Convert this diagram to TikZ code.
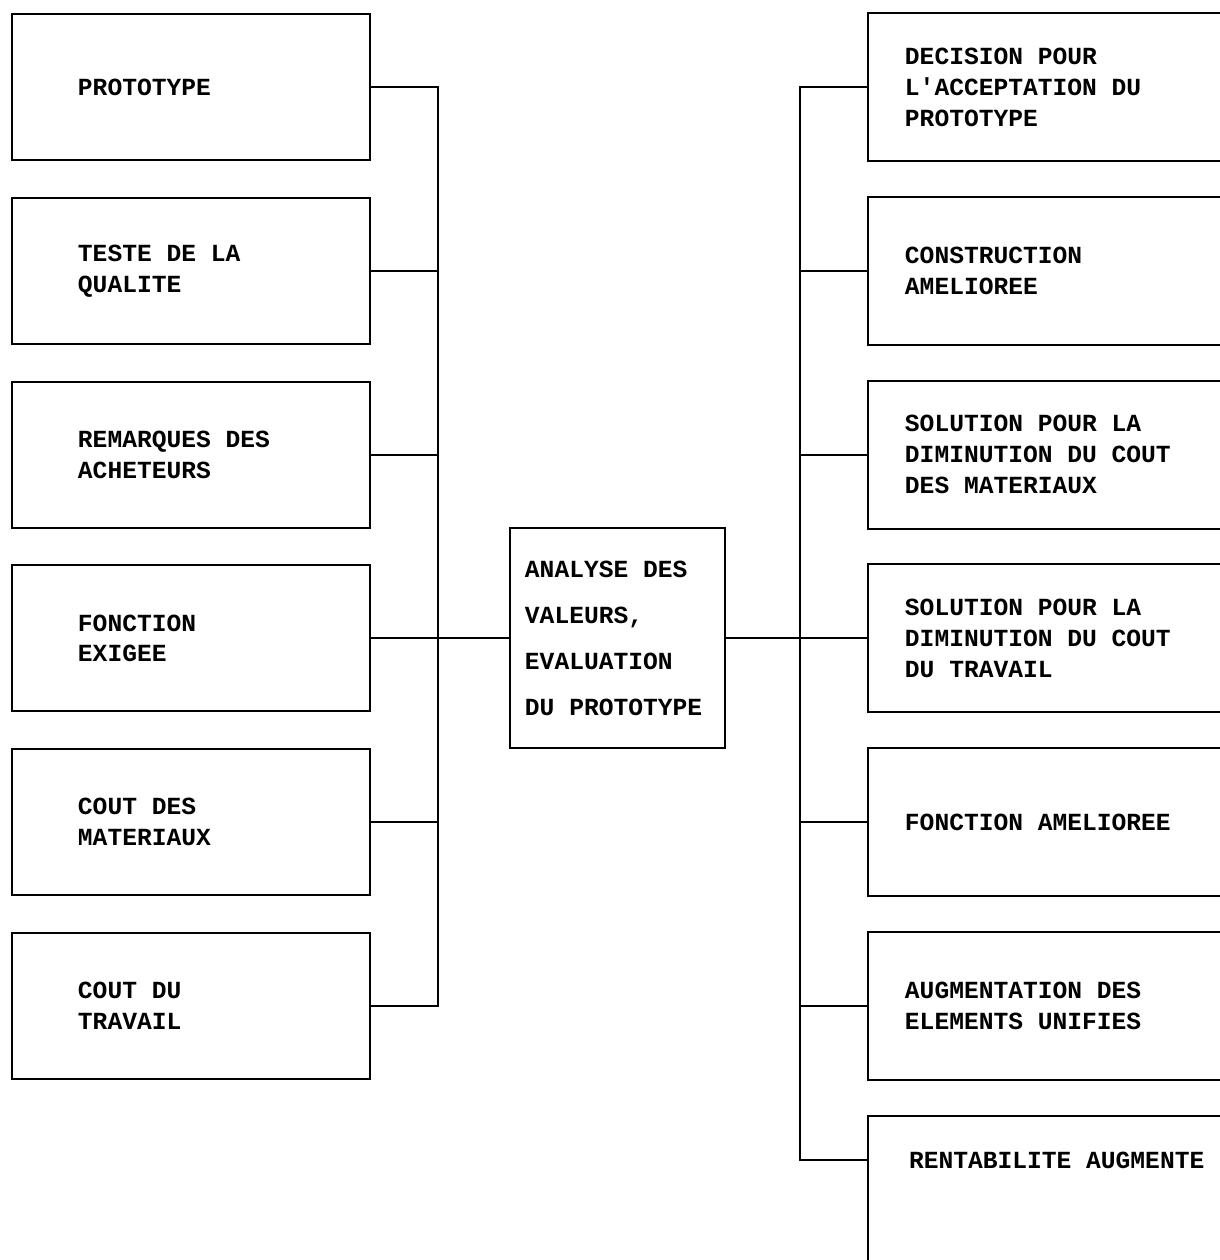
\documentclass[tikz,border=0pt]{standalone}
\usepackage{fontspec}
\setmonofont{Liberation Mono}
\usetikzlibrary{positioning,calc}

\begin{document}
\begin{tikzpicture}[x=0.025cm,y=-0.025cm,line width=1.4pt,
		boxfont/.style={font=\ttfamily\bfseries\fontsize{17.5}{22}\selectfont},
		lbox/.style={draw,rectangle,boxfont,text width=5.65cm,inner xsep=1.65cm,minimum height=3.65cm,align=left,execute at begin node={\spaceskip=0pt\xspaceskip=0pt}},
		rbox/.style={draw,rectangle,boxfont,text width=8.65cm,inner xsep=0.925cm,minimum height=3.7cm,align=left,execute at begin node={\spaceskip=0pt\xspaceskip=0pt}},
		cbox/.style={draw,rectangle,font=\ttfamily\bfseries\fontsize{17.5}{32.7}\selectfont,text width=4.625cm,inner xsep=0.375cm,minimum height=5.5cm,align=left,execute at begin node={\spaceskip=0pt\xspaceskip=0pt}}]
			
			\useasboundingbox (0,0) rectangle (1220,1260);
			\clip (0,0) rectangle (1220,1260);
			
			% left column
			\node[lbox] (proto) at (191,87) {PROTOTYPE};
			\node[lbox] (teste) at (191,270.8) {TESTE DE LA\\QUALITE};
			\node[lbox] (remarq) at (191,454.6) {REMARQUES DES\\ACHETEURS};
			\node[lbox] (fonct) at (191,638.4) {FONCTION\\EXIGEE};
			\node[lbox] (coutmat) at (191,822.2) {COUT DES\\MATERIAUX};
			\node[lbox] (couttrav) at (191,1006) {COUT DU\\TRAVAIL};
			
			% center
			\node[cbox] (ana) at (617.5,638.4) {ANALYSE DES\\VALEURS,\\EVALUATION\\DU PROTOTYPE};
			
			% right column
			\node[rbox] (decis) at (1078,87) {DECISION POUR\\L'ACCEPTATION DU\\PROTOTYPE};
			\node[rbox] (constr) at (1078,270.8) {CONSTRUCTION\\AMELIOREE};
			\node[rbox] (solmat) at (1078,454.6) {SOLUTION POUR LA\\DIMINUTION DU COUT\\DES MATERIAUX};
			\node[rbox] (soltrav) at (1078,638.4) {SOLUTION POUR LA\\DIMINUTION DU COUT\\DU TRAVAIL};
			\node[rbox] (fonctam) at (1078,822.2) {FONCTION AMELIOREE};
			\node[rbox] (augm) at (1078,1006) {AUGMENTATION DES\\ELEMENTS UNIFIES};
			\node[rbox] (rentab) at (1078,1190) {};
			\node[boxfont,anchor=west,inner sep=0pt] (rentabt) at (908,1160) {RENTABILITE AUGMENTE};
			
			\coordinate (lbus) at (438,0);
			\coordinate (rbus) at (800,0);
			
			% left bus
			\draw (proto.east) -- (proto.east -| lbus) -- (couttrav.east -| lbus) -- (couttrav.east);
			\foreach \n in {teste,remarq,fonct,coutmat}
				\draw (\n.east) -- (\n.east -| lbus);
			\draw (fonct.east -| lbus) -- (ana.west);
			
			% right bus
			\draw (ana.east) -- (soltrav.west);
			\draw (decis.west) -- (decis.west -| rbus) -- (rentabt.west -| rbus) -- (rentabt.west -| rentab.west);
			\foreach \n in {constr,solmat,fonctam,augm}
				\draw (\n.west) -- (\n.west -| rbus);
			
		\end{tikzpicture}
\end{document}
